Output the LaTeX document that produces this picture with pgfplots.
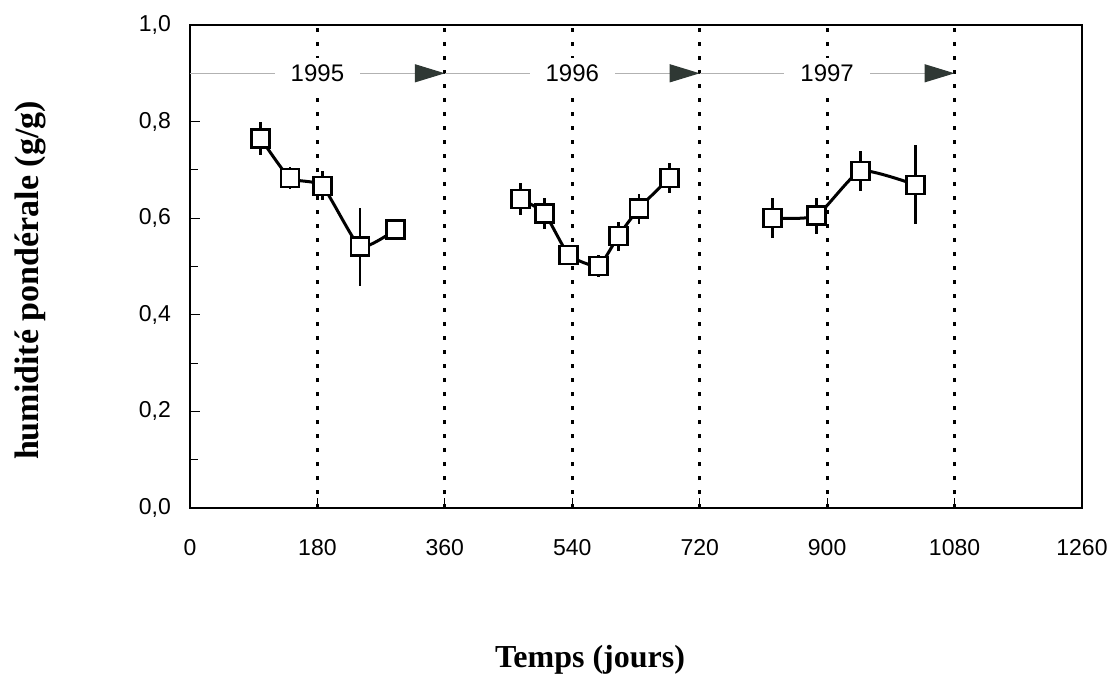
\documentclass[border=0pt]{standalone}
\usepackage{fontspec}
\setmainfont{Liberation Sans}
\newfontfamily\labelfont{Liberation Serif}
\usepackage{pgfplots}
\pgfplotsset{compat=1.18}
\usetikzlibrary{arrows.meta}

\definecolor{tipgray}{HTML}{2F3834}

\pgfplotsset{
  humid/.style={black, line width=1.5pt, smooth, tension=0.3,
      mark=square*, mark size=4.5pt,
      mark options={fill=white, draw=black, line width=1.3pt, solid},
      error bars/y dir=both, error bars/y explicit,
      error bars/error mark=none,
      error bars/error bar style={line width=1.3pt}},
}

\begin{document}
\begin{tikzpicture}
\begin{axis}[
    scale only axis,
    width=446pt, height=241.5pt,
    xmin=0, xmax=1260, ymin=0, ymax=1,
    xtick={0,180,...,1260},
    ytick={0,0.2,...,1.0},
    minor y tick num=1,
    xtick pos=bottom, ytick pos=left,
    tick align=inside,
    major tick length=5pt, minor tick length=4pt,
    axis line style={line width=1pt},
    every tick/.style={black, line width=0.6pt},
    ticklabel style={font=\fontsize{11.5}{13}\selectfont},
    /pgf/number format/assume math mode=true,
    /pgf/number format/use comma,
    /pgf/number format/1000 sep={},
    yticklabel style={/pgf/number format/fixed, /pgf/number format/fixed zerofill, /pgf/number format/precision=1, xshift=-6pt},
    xticklabel style={yshift=-12pt},
    clip=false,
]
% dotted separators
\foreach \xv in {180,360,540,720,900,1080}{
  \edef\tmp{\noexpand\draw[black, line width=1.6pt, dash pattern=on 2pt off 5pt] (axis cs:\xv,0) -- (axis cs:\xv,1);}
  \tmp
}
% year arrows
\draw[gray!60, line width=0.6pt, -{Triangle[length=15pt,width=9pt,color=tipgray]}] (axis cs:0,0.9) -- (axis cs:360,0.9);
\draw[gray!60, line width=0.6pt, -{Triangle[length=15pt,width=9pt,color=tipgray]}] (axis cs:360,0.9) -- (axis cs:720,0.9);
\draw[gray!60, line width=0.6pt, -{Triangle[length=15pt,width=9pt,color=tipgray]}] (axis cs:720,0.9) -- (axis cs:1080,0.9);
\node[fill=white, inner xsep=8pt, font=\fontsize{12}{13}\selectfont] at (axis cs:180,0.9) {1995};
\node[fill=white, inner xsep=8pt, font=\fontsize{12}{13}\selectfont] at (axis cs:540,0.9) {1996};
\node[fill=white, inner xsep=8pt, font=\fontsize{12}{13}\selectfont] at (axis cs:900,0.9) {1997};

\addplot[humid] table[x=x, y=y, y error=e] {
x y e
100 0.765 0.034
141 0.683 0.022
187 0.667 0.030
240 0.541 0.081
290 0.576 0.022
};
\addplot[humid] table[x=x, y=y, y error=e] {
x y e
467 0.640 0.033
501 0.610 0.032
535 0.524 0.018
577 0.501 0.023
605 0.563 0.030
634 0.620 0.031
677 0.683 0.031
};
\addplot[humid] table[x=x, y=y, y error=e] {
x y e
823 0.600 0.041
885 0.605 0.037
947 0.698 0.041
1025 0.669 0.082
};
\end{axis}
\node[rotate=90, font=\labelfont\bfseries\fontsize{17}{19}\selectfont] at ([xshift=-80pt,yshift=-7pt]current axis.west) {humidité pondérale (g/g)};
\node[font=\labelfont\bfseries\fontsize{16}{18}\selectfont] at ([xshift=-23pt,yshift=-76pt]current axis.south) {Temps (jours)};
\pgfresetboundingbox
\path ([xshift=-95pt,yshift=-84pt]current axis.south west) rectangle ([xshift=14pt,yshift=12.5pt]current axis.north east);
\end{tikzpicture}
\end{document}
